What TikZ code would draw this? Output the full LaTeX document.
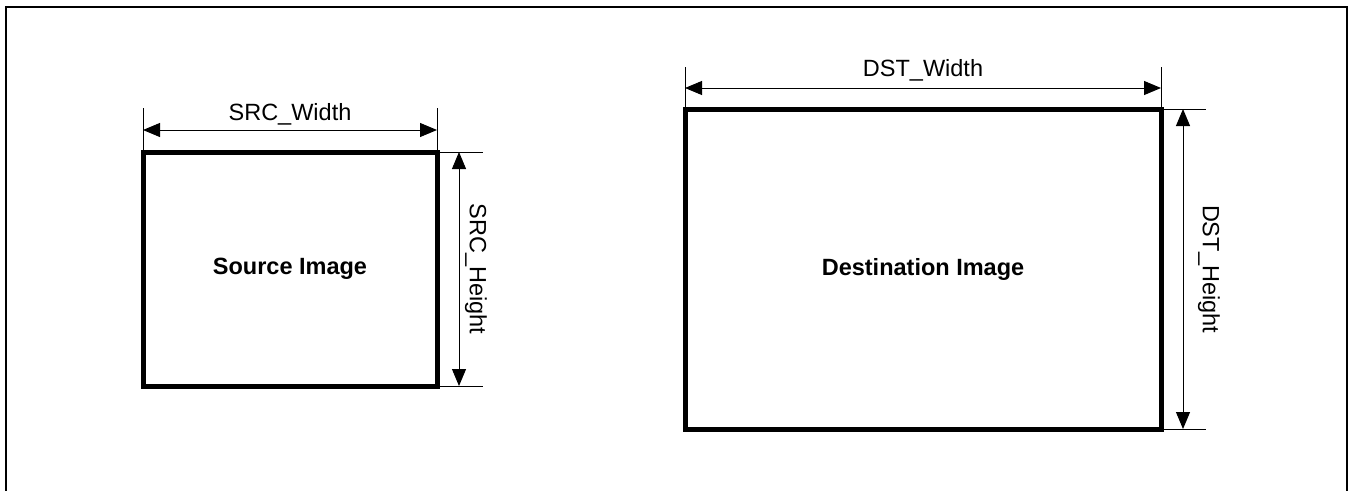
\documentclass[tikz,border=0pt]{standalone}
\usepackage{fontspec}
\setmainfont{Liberation Sans}
\usetikzlibrary{arrows.meta}
\begin{document}
\begin{tikzpicture}[x=1pt,y=-1pt,
  imgbox/.style={draw,line width=5pt,inner sep=0pt,outer sep=0pt,font=\fontsize{23.5}{26}\selectfont\bfseries},
  dimline/.style={line width=1pt,{Triangle[length=17pt,width=14pt]}-{Triangle[length=17pt,width=14pt]}},
  extline/.style={line width=1pt},
  frameline/.style={line width=2pt},
  dimlabel/.style={font=\fontsize{23.5}{26}\selectfont,inner sep=1pt}]
\useasboundingbox (0,0) rectangle (1348,490);
\draw[frameline] (6,491) -- (6,7) -- (1347,7) -- (1347,491);

\node[imgbox,minimum width=294pt,minimum height=234pt] (src) at (290,269) {Source Image};
\node[imgbox,minimum width=476pt,minimum height=320pt] (dst) at (923,269) {Destination Image};

% SRC width
\coordinate (swl) at (143,108);
\coordinate (swr) at (437,108);
\draw[extline] (swl) -- (src.north west);
\draw[extline] (swr) -- (src.north east);
\coordinate (swa) at (143,130);
\coordinate (swb) at (437,130);
\draw[dimline] (swa) -- (swb);
\node[dimlabel] (swt) at (290,114) {SRC\_Width};

% SRC height
\coordinate (sht) at (483,152);
\coordinate (shb) at (483,386);
\draw[extline] (src.north east) -- (sht);
\draw[extline] (src.south east) -- (shb);
\coordinate (sha) at (459,152);
\coordinate (shc) at (459,386);
\draw[dimline] (sha) -- (shc);
\node[dimlabel,rotate=-90] (sht2) at (476,269) {SRC\_Height};

% DST width
\coordinate (dwl) at (685,67);
\coordinate (dwr) at (1161,67);
\draw[extline] (dwl) -- (dst.north west);
\draw[extline] (dwr) -- (dst.north east);
\coordinate (dwa) at (685,88);
\coordinate (dwb) at (1161,88);
\draw[dimline] (dwa) -- (dwb);
\node[dimlabel] (dwt) at (923,70) {DST\_Width};

% DST height
\coordinate (dht) at (1206,109);
\coordinate (dhb) at (1206,429);
\draw[extline] (dst.north east) -- (dht);
\draw[extline] (dst.south east) -- (dhb);
\coordinate (dha) at (1183,109);
\coordinate (dhc) at (1183,429);
\draw[dimline] (dha) -- (dhc);
\node[dimlabel,rotate=-90] (dht2) at (1209,269) {DST\_Height};
\end{tikzpicture}
\end{document}
